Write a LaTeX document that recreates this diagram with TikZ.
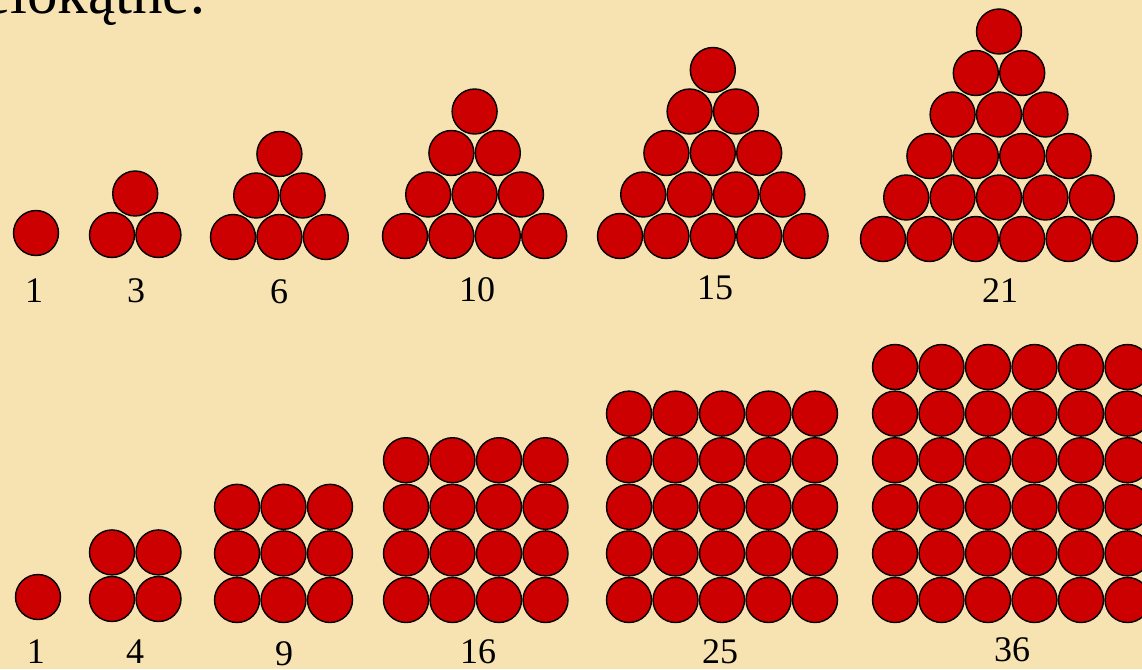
\documentclass[tikz,border=0pt]{standalone}
\usepackage{fontspec}
\setmainfont{Liberation Serif}
\usetikzlibrary{positioning}
\definecolor{paper}{HTML}{F6E3B1}
\definecolor{ballred}{HTML}{CC0000}
\tikzset{
  ball/.style={circle,draw=black,fill=ballred,line width=1.4pt,
    minimum size=45pt,inner sep=0pt},
  count/.style={font=\fontsize{36}{40}\selectfont,inner sep=0pt},
  heading/.style={font=\fontsize{61}{66}\selectfont,inner sep=0pt,anchor=base west}
}

\begin{document}
\begin{tikzpicture}[x=1pt,y=-1pt]
  \fill[paper] (0,0) rectangle (1142,669);
  \useasboundingbox (0,0) rectangle (1142,669);
  \node[heading] (title) at (-17,14) {elokątne:};
  % triangular numbers: n / x of bottom-left / y of bottom row
  \foreach \n/\xa/\ya in {1/36/233,2/112/235,3/233/237,4/405/236,5/620/236,6/883/239}{
    \pgfmathtruncatemacro{\top}{\n-1}
    \foreach \r in {0,...,\top}{
      \pgfmathtruncatemacro{\last}{\n-\r-1}
      \foreach \i in {0,...,\last}
        \node[ball] (tri-\n-\r-\i) at (\xa+\r*23.2+\i*46.4,\ya-\r*41.5) {};
    }
  }
  % square numbers
  \foreach \n/\xa/\ya in {1/38/597,2/112/599,3/237/600,4/406/600,5/629/600,6/895/600}{
    \pgfmathtruncatemacro{\top}{\n-1}
    \foreach \r in {0,...,\top}
      \foreach \i in {0,...,\top}
        \node[ball] (sq-\n-\r-\i) at (\xa+\i*46.5,\ya-\r*46.6) {};
  }
  \node[count] (t1) at (34,291) {1};
  \node[count] (t3) at (136,291) {3};
  \node[count] (t6) at (279,292) {6};
  \node[count] (t10) at (477,290) {10};
  \node[count] (t15) at (715,288) {15};
  \node[count] (t21) at (1000,291) {21};
  \node[count] (s1) at (36,652) {1};
  \node[count] (s4) at (135,652) {4};
  \node[count] (s9) at (284,654) {9};
  \node[count] (s16) at (478,652) {16};
  \node[count] (s25) at (720,652) {25};
  \node[count] (s36) at (1012,650) {36};
\end{tikzpicture}
\end{document}
